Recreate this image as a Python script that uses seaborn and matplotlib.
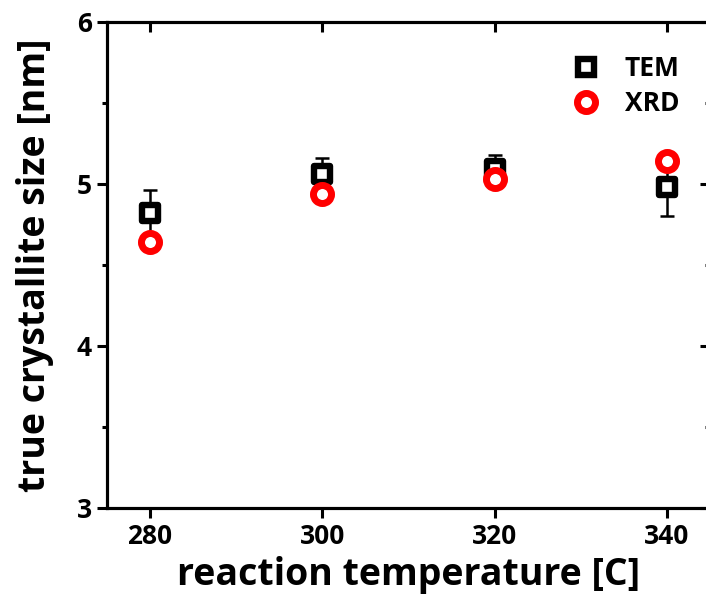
import matplotlib
matplotlib.use("Agg")
import matplotlib.pyplot as plt
from matplotlib.lines import Line2D
from matplotlib.ticker import MultipleLocator
import pandas as pd
import seaborn as sns

temperature = [280, 300, 320, 340]
tem_size = [4.82, 5.06, 5.09, 4.98]
tem_err = [0.14, 0.10, 0.09, 0.18]
xrd_size = [4.64, 4.94, 5.03, 5.14]

df = pd.DataFrame(
    {
        "temperature": temperature * 2,
        "size": tem_size + xrd_size,
        "method": ["TEM"] * 4 + ["XRD"] * 4,
    }
)

sns.set_style("ticks")
plt.rcParams["font.family"] = ["Open Sans", "DejaVu Sans"]
plt.rcParams["font.weight"] = "bold"
for key in ["text.color", "axes.labelcolor", "xtick.color", "ytick.color", "axes.edgecolor"]:
    plt.rcParams[key] = "black"

fig = plt.figure(figsize=(7.06, 6.0), dpi=100)
ax = fig.add_axes([107 / 706, 1 - 508 / 600, (710 - 107) / 706, (508 - 22) / 600])

ax.errorbar(temperature, tem_size, yerr=tem_err, fmt="none", ecolor="black",
            elinewidth=1.8, capsize=4.7, capthick=1.8, zorder=2)

tem = df[df["method"] == "TEM"]
xrd = df[df["method"] == "XRD"]
sns.scatterplot(data=tem, x="temperature", y="size", marker="s", s=11.5 ** 2,
                color="black", facecolor="white", edgecolor="black", linewidth=4.6,
                zorder=3, ax=ax, legend=False)
sns.scatterplot(data=xrd, x="temperature", y="size", marker="o", s=13.0 ** 2,
                color="red", facecolor="white", edgecolor="red", linewidth=5.0,
                zorder=4, ax=ax, legend=False)

ax.set_xlim(275, 345)
ax.set_ylim(3, 6)
ax.set_xticks(temperature)
ax.yaxis.set_major_locator(MultipleLocator(1))
ax.yaxis.set_minor_locator(MultipleLocator(0.5))

for side in ["left", "right", "top", "bottom"]:
    ax.spines[side].set_linewidth(2.2)
    ax.spines[side].set_visible(True)

ax.tick_params(axis="both", which="major", direction="out", length=7, width=2.2,
               labelsize=19, pad=4, top=False, right=False)
ax.tick_params(axis="y", which="minor", direction="out", length=3.5, width=2.2)

# mirrored ticks, pointing inward, on top and right
top = ax.twiny()
top.set_xlim(ax.get_xlim())
top.set_xticks(temperature)
top.tick_params(axis="x", direction="in", length=7.5, width=2.2, labeltop=False)
right = ax.twinx()
right.set_ylim(ax.get_ylim())
right.yaxis.set_major_locator(MultipleLocator(1))
right.yaxis.set_minor_locator(MultipleLocator(0.5))
right.tick_params(axis="y", which="major", direction="in", length=7, width=2.2, labelright=False)
right.tick_params(axis="y", which="minor", direction="in", length=3.5, width=2.2)
for twin in (top, right):
    twin.grid(False)
    for sp in twin.spines.values():
        sp.set_linewidth(2.2)

for lbl in ax.get_xticklabels() + ax.get_yticklabels():
    lbl.set_fontweight("bold")

ax.set_xlabel("reaction temperature [C]", fontsize=27, fontweight="bold", labelpad=4)
ax.set_ylabel("true crystallite size [nm]", fontsize=27, fontweight="bold", labelpad=16)

handles = [
    Line2D([], [], marker="s", linestyle="none", markersize=11.5, markerfacecolor="white",
           markeredgecolor="black", markeredgewidth=4.6),
    Line2D([], [], marker="o", linestyle="none", markersize=13.0, markerfacecolor="white",
           markeredgecolor="red", markeredgewidth=5.0),
]
right.legend(handles, ["TEM", "XRD"], loc="upper left", bbox_to_anchor=(0.712, 0.98),
             frameon=False, handletextpad=0.45, labelspacing=0.3,
             prop={"weight": "bold", "size": 19})

fig.savefig("out.png", dpi=100)
